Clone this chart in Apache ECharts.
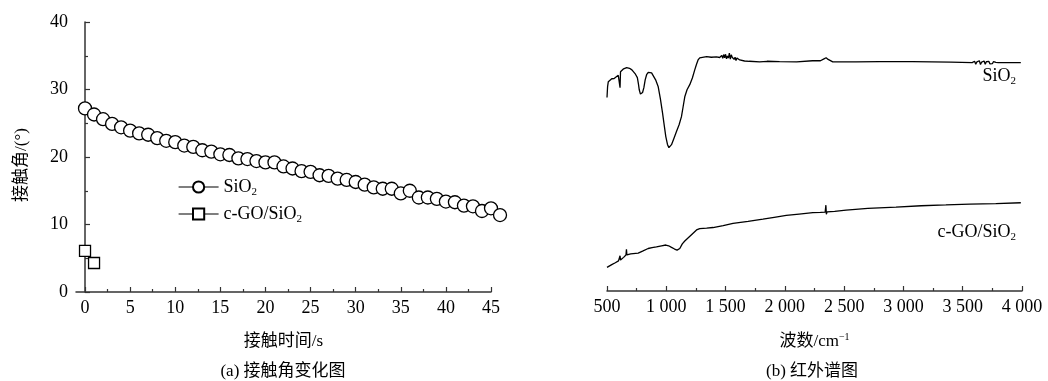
<!DOCTYPE html>
<html lang="zh" style="height: 100%">
<head>
  <meta charset="utf-8">
</head>
<body style="height: 100%; margin: 0; background: #fff">
  <div id="container" style="width: 1048px; height: 381px"></div>

  <script type="text/javascript" src="https://cdn.jsdelivr.net/npm/echarts@6/dist/echarts.min.js"></script>

  <script type="text/javascript">
    // (a) 接触角变化
    var timeSiO2 = [0, 1, 2, 3, 4, 5, 6, 7, 8, 9, 10, 11, 12, 13, 14, 15, 16, 17, 18, 19, 20, 21, 22, 23,
      24, 25, 26, 27, 28, 29, 30, 31, 32, 33, 34, 35, 36, 37, 38, 39, 40, 41, 42, 43, 44, 45, 46];
    var angleSiO2 = [27.2, 26.3, 25.6, 24.9, 24.4, 23.9, 23.5, 23.3, 22.8, 22.4, 22.2, 21.7, 21.5, 21.0,
      20.8, 20.4, 20.3, 19.8, 19.7, 19.4, 19.2, 19.2, 18.6, 18.3, 17.9, 17.8, 17.3, 17.2, 16.8, 16.6,
      16.3, 15.9, 15.5, 15.3, 15.3, 14.6, 15.0, 14.0, 14.0, 13.8, 13.4, 13.3, 12.8, 12.7, 12.0, 12.4, 11.4];
    var timeGO = [0, 1];
    var angleGO = [6.1, 4.3];
    var xTicksA = [0, 5, 10, 15, 20, 25, 30, 35, 40, 45];
    var xMinorA = [2.5, 7.5, 12.5, 17.5, 22.5, 27.5, 32.5, 37.5, 42.5];

    // (b) 红外谱图 (透过率, 任意单位)
    var wnSiO2 = [500, 505, 511, 525, 540, 560, 576, 595, 605, 610, 614, 624, 640, 666, 690, 710, 722,
      740, 756, 765, 772, 782, 792, 800, 811, 822, 834, 848, 862, 876, 890, 910, 932, 950, 968, 983,
      996, 1010, 1022, 1032, 1044, 1065, 1086, 1108, 1128, 1142, 1156, 1175, 1198, 1220, 1240, 1255,
      1268, 1282, 1297, 1340, 1380, 1423, 1450,
      1460, 1468, 1476, 1484, 1492, 1500, 1508, 1516, 1524, 1532, 1540, 1548, 1556, 1564, 1572, 1580,
      1588, 1596, 1604,
      1619, 1660, 1700, 1787, 1850, 1955, 2100, 2233, 2300, 2330, 2348, 2365, 2380, 2404, 2600, 2800,
      3077, 3400,
      3580, 3590, 3600, 3610, 3620, 3630, 3640, 3650, 3660, 3670, 3680, 3690, 3700, 3710, 3720, 3730,
      3740, 3750, 3760, 3770, 3780, 3790, 3800,
      3850, 3990];
    var tSiO2 = [71.9, 76.0, 77.8, 78.5, 78.9, 79.0, 79.6, 80.2, 80.7, 75.6, 81.5, 82.2, 82.6, 83.0,
      82.8, 82.2, 81.5, 80.6, 79.3, 77.0, 74.8, 73.2, 73.0, 73.8, 75.6, 78.5, 80.4, 81.3, 81.5, 81.1,
      80.4, 78.5, 75.9, 71.5, 66.3, 61.5, 57.4, 54.5, 53.3, 53.4, 54.4, 56.8, 59.3, 61.8, 64.8, 68.5,
      72.2, 74.8, 76.7, 79.2, 82.2, 84.3, 85.9, 86.7, 87.0, 87.1, 86.9, 87.0, 86.8,
      87.0, 87.6, 86.5, 87.9, 86.7, 88.0, 86.3, 87.4, 86.6, 88.4, 86.2, 87.8, 86.9, 87.5, 86.1, 86.9,
      85.7, 86.6, 85.9,
      85.9, 85.5, 85.4, 85.2, 85.4, 85.3, 85.2, 85.6, 85.6, 86.3, 86.7, 86.1, 85.6, 85.2, 85.2, 85.3,
      85.3, 85.1,
      84.9, 84.4, 85.4, 84.3, 85.2, 84.6, 85.6, 84.2, 85.1, 84.5, 85.5, 84.3, 85.3, 84.6, 85.4, 84.4,
      85.0, 84.5, 85.3, 84.6, 85.0, 84.7, 84.9,
      84.9, 84.9];
    var wnGO = [500, 540, 570, 597, 605, 610, 614, 640, 660, 664, 668, 700, 763, 800, 847, 880, 917, 960,
      996, 1020, 1044, 1070, 1091, 1105, 1114, 1135, 1156, 1190, 1226, 1255, 1282, 1340, 1394, 1480,
      1563, 1690, 1815, 1910, 2012, 2120, 2236, 2300, 2340, 2346, 2350, 2356, 2420, 2516, 2700, 2937,
      3150, 3358, 3560, 3779, 3990];
    var tGO = [8.8, 9.8, 10.5, 11.2, 11.6, 13.1, 11.5, 12.5, 13.4, 15.5, 13.4, 13.8, 14.1, 14.8, 15.8,
      16.1, 16.4, 16.8, 17.1, 16.8, 16.2, 15.6, 15.2, 15.3, 15.8, 17.5, 18.6, 20.0, 21.5, 22.7, 23.2,
      23.4, 23.6, 24.3, 25.1, 25.9, 26.7, 27.4, 28.1, 28.6, 29.1, 29.2, 29.3, 31.9, 28.5, 29.4, 29.6,
      30.1, 30.7, 31.2, 31.7, 32.0, 32.3, 32.5, 32.8];

    function pairs(xs, ys) {
      return xs.map(function (x, i) { return [x, ys[i]]; });
    }

    var FONT = "'Liberation Serif', 'Noto Sans CJK SC', serif";
    var AXIS_COLOR = '#333';
    var SUB = { fontSize: 11, verticalAlign: 'bottom', lineHeight: 22, fontFamily: FONT };

    var dom = document.getElementById('container');
    var myChart = echarts.init(dom, null, { renderer: 'canvas' });

    var option = {
      backgroundColor: '#fff',
      animation: false,
      textStyle: { fontFamily: FONT, color: '#000' },
      grid: [
        { left: 76, right: 557, top: 22, bottom: 89 },
        { left: 607, right: 26, top: 22, bottom: 90 }
      ],
      xAxis: [
        {
          gridIndex: 0, type: 'value', min: -1, max: 45,
          name: '接触时间/s', nameLocation: 'middle', nameGap: 41,
          nameTextStyle: { fontSize: 17, fontFamily: FONT, color: '#000' },
          axisLine: { lineStyle: { color: AXIS_COLOR, width: 1.5 } },
          axisTick: { inside: true, length: 5, customValues: xTicksA, lineStyle: { color: AXIS_COLOR, width: 1.2 } },
          axisLabel: { customValues: xTicksA, fontSize: 18, margin: 7, color: '#000', fontFamily: FONT },
          splitLine: { show: false }
        },
        {
          // minor ticks for (a)
          gridIndex: 0, type: 'value', min: -1, max: 45, position: 'bottom',
          axisLine: { show: false },
          axisTick: { inside: true, length: 3, customValues: xMinorA, lineStyle: { color: AXIS_COLOR, width: 1.2 } },
          axisLabel: { show: false },
          splitLine: { show: false }
        },
        {
          gridIndex: 1, type: 'value', min: 500, max: 4000, interval: 500,
          name: '波数/cm{sup|−1}', nameLocation: 'middle', nameGap: 41,
          nameTextStyle: {
            fontSize: 17, fontFamily: FONT, color: '#000',
            rich: { sup: { fontSize: 10, verticalAlign: 'top', lineHeight: 20, fontFamily: FONT } }
          },
          axisLine: { lineStyle: { color: AXIS_COLOR, width: 1.5 } },
          axisTick: { inside: true, length: 5, lineStyle: { color: AXIS_COLOR, width: 1.2 } },
          minorTick: { show: true, splitNumber: 2, length: 3, lineStyle: { color: AXIS_COLOR, width: 1.2 } },
          axisLabel: {
            fontSize: 18, margin: 7, color: '#000', fontFamily: FONT,
            formatter: function (v) {
              return v >= 1000 ? Math.floor(v / 1000) + ' ' + String(v % 1000).padStart(3, '0') : String(v);
            }
          },
          splitLine: { show: false }
        }
      ],
      yAxis: [
        {
          gridIndex: 0, type: 'value', min: 0, max: 40, interval: 10,
          name: '接触角/(°)', nameLocation: 'middle', nameGap: 46,
          nameTextStyle: { fontSize: 17, fontFamily: FONT, color: '#000', padding: [0, 16, 0, 0] },
          axisLine: { show: true, lineStyle: { color: AXIS_COLOR, width: 1.5 } },
          axisTick: { show: true, inside: true, length: 5, lineStyle: { color: AXIS_COLOR, width: 1.2 } },
          minorTick: { show: true, splitNumber: 2, length: 3, lineStyle: { color: AXIS_COLOR, width: 1.2 } },
          axisLabel: { fontSize: 18, margin: 8, color: '#000', fontFamily: FONT },
          splitLine: { show: false }
        },
        {
          gridIndex: 1, type: 'value', min: 0, max: 100, show: false
        }
      ],
      legend: {
        orient: 'vertical', left: 173, top: 171,
        itemWidth: 40, itemHeight: 14, itemGap: 5,
        data: ['SiO2', 'c-GO/SiO2'],
        lineStyle: { opacity: 1, width: 1.2, color: '#000' },
        formatter: function (name) { return name.replace('SiO2', 'SiO{sub|2}'); },
        textStyle: {
          fontSize: 18, fontFamily: FONT, color: '#000', lineHeight: 22,
          rich: { sub: SUB }
        }
      },
      series: [
        {
          name: 'SiO2', type: 'line', xAxisIndex: 0, yAxisIndex: 0,
          data: pairs(timeSiO2, angleSiO2),
          symbol: 'circle', symbolSize: 13, showAllSymbol: true, clip: false,
          lineStyle: { opacity: 0 },
          itemStyle: { color: '#fff', borderColor: '#000', borderWidth: 1.3 }
        },
        {
          name: 'c-GO/SiO2', type: 'line', xAxisIndex: 0, yAxisIndex: 0,
          data: pairs(timeGO, angleGO),
          symbol: 'rect', symbolSize: 11, clip: false,
          lineStyle: { opacity: 0 },
          itemStyle: { color: '#fff', borderColor: '#000', borderWidth: 1.3 }
        },
        {
          name: 'IR SiO2', type: 'line', xAxisIndex: 2, yAxisIndex: 1,
          data: pairs(wnSiO2, tSiO2), showSymbol: false,
          lineStyle: { color: '#000', width: 1.3 }
        },
        {
          name: 'IR c-GO/SiO2', type: 'line', xAxisIndex: 2, yAxisIndex: 1,
          data: pairs(wnGO, tGO), showSymbol: false,
          lineStyle: { color: '#000', width: 1.3 }
        }
      ],
      graphic: [
        {
          type: 'text', x: 1016, y: 76,
          style: {
            text: 'SiO{sub|2}', align: 'right', verticalAlign: 'middle',
            font: '18px ' + FONT, fill: '#000', lineHeight: 22,
            rich: { sub: SUB }
          }
        },
        {
          type: 'text', x: 1016, y: 232,
          style: {
            text: 'c-GO/SiO{sub|2}', align: 'right', verticalAlign: 'middle',
            font: '18px ' + FONT, fill: '#000', lineHeight: 22,
            rich: { sub: SUB }
          }
        },
        {
          type: 'text', x: 283, y: 372,
          style: { text: '(a) 接触角变化图', align: 'center', verticalAlign: 'middle', font: '17px ' + FONT, fill: '#000' }
        },
        {
          type: 'text', x: 812, y: 372,
          style: { text: '(b) 红外谱图', align: 'center', verticalAlign: 'middle', font: '17px ' + FONT, fill: '#000' }
        }
      ]
    };

    myChart.setOption(option);
    window.addEventListener('resize', myChart.resize);
  </script>
</body>
</html>
